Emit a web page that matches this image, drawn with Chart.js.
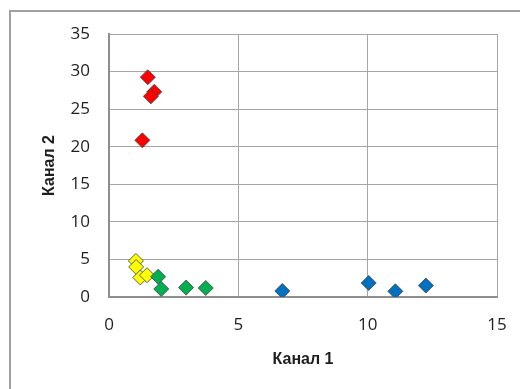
<!DOCTYPE html>
<html>
<head>
<meta charset="utf-8">
<script src="https://cdn.jsdelivr.net/npm/chart.js@4.4.1/dist/chart.umd.min.js"></script>
<style>
  html, body { margin: 0; padding: 0; background: #fff; }
  #wrap { position: relative; width: 520px; height: 389px; overflow: hidden; }
  #frame { position: absolute; left: 9px; top: 10px; width: 600px; height: 500px; border: 2px solid #a0a0a0; box-sizing: border-box; }
  canvas { position: absolute; left: 0; top: 0; }
</style>
</head>
<body>
<div id="wrap">
  <div id="frame"></div>
  <canvas id="myChart" width="520" height="389"></canvas>
</div>
<script>
'use strict';

// points, one group per colour
var redX = [1.5, 1.75, 1.62, 1.29];
var redY = [29.25, 27.3, 26.7, 20.85];
var yellowX = [1.04, 1.05, 1.21, 1.47];
var yellowY = [4.8, 4.0, 2.6, 2.9];
var greenX = [1.9, 2.02, 2.98, 3.74];
var greenY = [2.7, 1.07, 1.25, 1.2];
var blueX = [6.7, 10.04, 11.07, 12.25];
var blueY = [0.8, 1.87, 0.76, 1.52];

var xTicks = [0, 5, 10, 15];
var yTicks = [0, 5, 10, 15, 20, 25, 30, 35];

function toPoints (xs, ys) {
  var pts = [];
  for (var i = 0; i < xs.length; i++) {
    pts.push({x: xs[i], y: ys[i]});
  }
  return pts;
}

function makeSet (xs, ys, color) {
  return {
    data: toPoints(xs, ys),
    pointStyle: 'rectRot',
    pointRadius: 7.5,
    pointHoverRadius: 7.5,
    backgroundColor: color,
    borderColor: 'rgba(70,70,70,0.85)',
    borderWidth: 1
  };
}

var ctx = document.getElementById('myChart').getContext('2d');
var chart = new Chart(ctx, {
  type: 'scatter',
  data: {
    datasets: [
      makeSet(blueX, blueY, '#0070c0'),
      makeSet(greenX, greenY, '#00b050'),
      makeSet(yellowX, yellowY, '#ffff00'),
      makeSet(redX, redY, '#ff0000')
    ]
  },
  options: {
    responsive: false,
    animation: false,
    layout: { padding: { top: 34, right: 23, left: 0, bottom: 0 } },
    plugins: { legend: { display: false }, tooltip: { enabled: false } },
    scales: {
      x: {
        type: 'linear',
        min: xTicks[0],
        max: xTicks[xTicks.length - 1],
        afterFit: function (scale) { scale.height = 92; },
        afterBuildTicks: function (scale) {
          scale.ticks = xTicks.map(function (v) { return {value: v}; });
        },
        // the gap under the axis comes from invisible tick marks so the right side is not padded
        ticks: { padding: 0, color: '#1e1e1e', font: { family: 'Open Sans', size: 17 } },
        grid: { color: '#a6a6a6', lineWidth: 1, drawTicks: true, tickLength: 18, tickColor: 'rgba(0,0,0,0)' },
        border: { color: '#8f8f8f', width: 2 },
        title: {
          display: true,
          text: 'Канал 1',
          color: '#1e1e1e',
          font: { family: 'Liberation Sans', size: 16, weight: 'bold' },
          padding: { top: 0, bottom: 20 }
        }
      },
      y: {
        type: 'linear',
        min: yTicks[0],
        max: yTicks[yTicks.length - 1],
        afterFit: function (scale) { scale.width = 109; },
        afterBuildTicks: function (scale) {
          scale.ticks = yTicks.map(function (v) { return {value: v}; });
        },
        ticks: { padding: 19, color: '#1e1e1e', font: { family: 'Open Sans', size: 17 } },
        grid: { color: '#a6a6a6', lineWidth: 1, drawTicks: false },
        border: { color: '#8f8f8f', width: 2 },
        title: {
          display: true,
          text: 'Канал 2',
          color: '#1e1e1e',
          font: { family: 'Liberation Sans', size: 16, weight: 'bold' },
          padding: { top: 40, bottom: 0 }
        }
      }
    }
  }
});
</script>
</body>
</html>
